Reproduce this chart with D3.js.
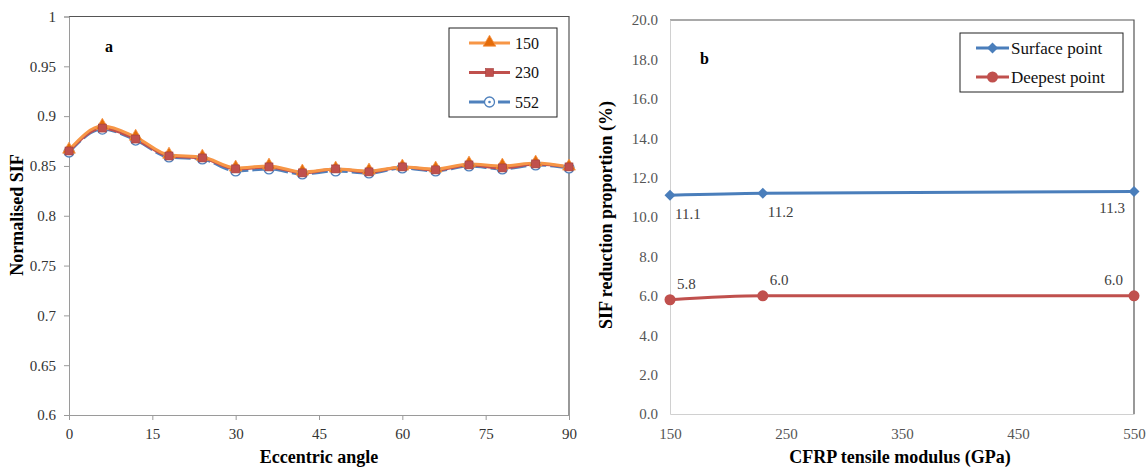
<!DOCTYPE html>
<html>
<head>
<meta charset="utf-8">
<script src="https://cdn.jsdelivr.net/npm/d3@7"></script>
<style>
  body { margin: 0; background: #fff; }
  svg { display: block; }
  svg text { font-family: "Liberation Serif", "Times New Roman", serif; }
</style>
</head>
<body>
<svg id="chart" width="1146" height="468"></svg>
<script>
// ---- panel a data ----
var angles = [0, 6, 12, 18, 24, 30, 36, 42, 48, 54, 60, 66, 72, 78, 84, 90];
var sif150 = [0.866, 0.890, 0.879, 0.861, 0.859, 0.848, 0.850, 0.844, 0.847, 0.845, 0.849, 0.847, 0.852, 0.850, 0.853, 0.849];
var sif230 = [0.865, 0.888, 0.877, 0.860, 0.858, 0.847, 0.849, 0.843, 0.847, 0.844, 0.849, 0.846, 0.851, 0.848, 0.852, 0.849];
var sif552 = [0.864, 0.887, 0.876, 0.859, 0.857, 0.845, 0.847, 0.842, 0.845, 0.843, 0.848, 0.845, 0.850, 0.847, 0.851, 0.848];
var angleTicks = [0, 15, 30, 45, 60, 75, 90];
var sifTicks = [0.6, 0.65, 0.7, 0.75, 0.8, 0.85, 0.9, 0.95, 1];
var sifTickLabels = ["0.6", "0.65", "0.7", "0.75", "0.8", "0.85", "0.9", "0.95", "1"];

// ---- panel b data ----
var modulus = [150, 230, 552];
var surfacePt = [11.1, 11.2, 11.3];
var deepestPt = [5.8, 6.0, 6.0];
var modulusTicks = [150, 250, 350, 450, 550];
var reductionTicks = [0, 2, 4, 6, 8, 10, 12, 14, 16, 18, 20];

var svg = d3.select("#chart");
var SERIF = "Liberation Serif";

// ================= panel a =================
var ax = d3.scaleLinear().domain([0, 90]).range([69, 569]);
var ay = d3.scaleLinear().domain([0.6, 1]).range([415, 16.5]);
var ga = svg.append("g");

// frame (top / right darker)
ga.append("path").attr("d", "M69,16.5H569V415").attr("fill", "none").attr("stroke", "#555").attr("stroke-width", 1.2);

var axA = ga.append("g").attr("transform", "translate(0,415)")
    .call(d3.axisBottom(ax).tickValues(angleTicks).tickSize(5).tickPadding(8));
var ayA = ga.append("g").attr("transform", "translate(69,0)")
    .call(d3.axisLeft(ay).tickValues(sifTicks).tickSize(5).tickPadding(8)
      .tickFormat(function(d, i) { return sifTickLabels[i]; }));
[axA, ayA].forEach(function(g) {
	g.select(".domain").attr("stroke", "#9a9a9a");
	g.selectAll(".tick line").attr("stroke", "#9a9a9a");
	g.selectAll("text").attr("font-family", SERIF).attr("font-size", 15).attr("fill", "#333");
});

var seriesA = [
	{ name: "552", vals: sif552, color: "#4f81bd", dash: "16,4", marker: "circle" },
	{ name: "230", vals: sif230, color: "#c0504d", dash: null, marker: "square" },
	{ name: "150", vals: sif150, color: "#f79646", dash: null, marker: "triangle" }
];

var lineA = d3.line()
    .x(function(d) { return ax(d[0]); })
    .y(function(d) { return ay(d[1]); })
    .curve(d3.curveMonotoneX);

seriesA.forEach(function(s) {
	ga.append("path")
	    .datum(angles.map(function(a, i) { return [a, s.vals[i]]; }))
	    .attr("d", lineA)
	    .attr("fill", "none")
	    .attr("stroke", s.color)
	    .attr("stroke-width", 3)
	    .attr("stroke-dasharray", s.dash);
});

function drawMarker(g, type, x, y) {
	if (type === "triangle") {
		g.append("path").attr("d", d3.symbol().type(d3.symbolTriangle).size(70)())
		    .attr("transform", "translate(" + x + "," + (y - 0.5) + ")")
		    .attr("fill", "#e46c0a").attr("stroke", "#f79646").attr("stroke-width", 0.8);
	} else if (type === "square") {
		g.append("rect").attr("x", x - 4).attr("y", y - 4).attr("width", 8).attr("height", 8)
		    .attr("fill", "#c0504d").attr("stroke", "#a33f3c").attr("stroke-width", 0.6);
	} else if (type === "circle") {
		g.append("circle").attr("cx", x).attr("cy", y).attr("r", 5)
		    .attr("fill", "#fff").attr("stroke", "#4f81bd").attr("stroke-width", 1.3);
		g.append("circle").attr("cx", x).attr("cy", y).attr("r", 1.3).attr("fill", "#4f81bd");
	} else if (type === "diamond") {
		g.append("path").attr("d", "M0,-5.5L5.5,0L0,5.5L-5.5,0Z")
		    .attr("transform", "translate(" + x + "," + y + ")").attr("fill", "#4a7ebb");
	} else if (type === "dot") {
		g.append("circle").attr("cx", x).attr("cy", y).attr("r", 5.5).attr("fill", "#c0504d");
	}
}

// markers: blue, orange, red on top
[seriesA[0], seriesA[2], seriesA[1]].forEach(function(s) {
	angles.forEach(function(a, i) { drawMarker(ga, s.marker, ax(a), ay(s.vals[i])); });
});

// legend a
ga.append("rect").attr("x", 449).attr("y", 28).attr("width", 108).attr("height", 89)
    .attr("fill", "#fff").attr("stroke", "#222").attr("stroke-width", 1);
[seriesA[2], seriesA[1], seriesA[0]].forEach(function(s, i) {
	var y = 43 + i * 29.5;
	ga.append("line").attr("x1", 469).attr("x2", 510).attr("y1", y).attr("y2", y)
	    .attr("stroke", s.color).attr("stroke-width", 3).attr("stroke-dasharray", s.dash ? "21,8" : null);
	drawMarker(ga, s.marker, 489.5, y);
	ga.append("text").attr("x", 515).attr("y", y + 5.5).attr("font-family", SERIF)
	    .attr("font-size", 16).attr("fill", "#111").text(s.name);
});

ga.append("text").attr("x", 105).attr("y", 52).attr("font-family", SERIF)
    .attr("font-weight", "bold").attr("font-size", 16).text("a");
ga.append("text").attr("x", 319).attr("y", 463).attr("text-anchor", "middle").attr("font-family", SERIF)
    .attr("font-weight", "bold").attr("font-size", 18).text("Eccentric angle");
ga.append("text").attr("transform", "translate(23,215) rotate(-90)").attr("text-anchor", "middle")
    .attr("font-family", SERIF).attr("font-weight", "bold").attr("font-size", 18).text("Normalised SIF");

// ================= panel b =================
var bx = d3.scaleLinear().domain([150, 550]).range([670, 1134]).clamp(true);
var by = d3.scaleLinear().domain([0, 20]).range([414, 20]);
var gb = svg.append("g");

gb.append("path").attr("d", "M670,20H1134V414").attr("fill", "none").attr("stroke", "#555").attr("stroke-width", 1.2);

var axB = gb.append("g").attr("transform", "translate(0,414)")
    .call(d3.axisBottom(bx).tickValues(modulusTicks).tickSize(0).tickPadding(14));
var ayB = gb.append("g").attr("transform", "translate(670,0)")
    .call(d3.axisLeft(by).tickValues(reductionTicks).tickSize(0).tickPadding(12).tickFormat(d3.format(".1f")));
[axB, ayB].forEach(function(g) {
	g.select(".domain").attr("stroke", "#d0d0d0");
	g.selectAll("text").attr("font-family", SERIF).attr("font-size", 15).attr("fill", "#555");
});

var lineB = d3.line()
    .x(function(d) { return bx(d[0]); })
    .y(function(d) { return by(d[1]); })
    .curve(d3.curveMonotoneX);

var seriesB = [
	{ name: "Surface point", vals: surfacePt, color: "#4a7ebb", marker: "diamond" },
	{ name: "Deepest point", vals: deepestPt, color: "#c0504d", marker: "dot" }
];

seriesB.forEach(function(s) {
	gb.append("path")
	    .datum(modulus.map(function(m, i) { return [m, s.vals[i]]; }))
	    .attr("d", lineB)
	    .attr("fill", "none").attr("stroke", s.color).attr("stroke-width", 3);
	modulus.forEach(function(m, i) { drawMarker(gb, s.marker, bx(m), by(s.vals[i])); });
});

// data labels
modulus.forEach(function(m, i) {
	var last = i === modulus.length - 1;
	gb.append("text")
	    .attr("x", last ? bx(m) - 9 : bx(m) + 5)
	    .attr("y", last ? by(surfacePt[i]) + 22 : by(surfacePt[i]) + 24)
	    .attr("text-anchor", last ? "end" : "start")
	    .attr("font-family", SERIF).attr("font-size", 15).attr("fill", "#404040")
	    .text(d3.format(".1f")(surfacePt[i]));
	gb.append("text")
	    .attr("x", last ? bx(m) - 11 : bx(m) + 7)
	    .attr("y", by(deepestPt[i]) - 11)
	    .attr("text-anchor", last ? "end" : "start")
	    .attr("font-family", SERIF).attr("font-size", 15).attr("fill", "#404040")
	    .text(d3.format(".1f")(deepestPt[i]));
});

// legend b
gb.append("rect").attr("x", 960).attr("y", 33).attr("width", 163).attr("height", 59)
    .attr("fill", "#fff").attr("stroke", "#222").attr("stroke-width", 1);
seriesB.forEach(function(s, i) {
	var y = 48 + i * 29;
	gb.append("line").attr("x1", 976).attr("x2", 1009).attr("y1", y).attr("y2", y)
	    .attr("stroke", s.color).attr("stroke-width", 3);
	drawMarker(gb, s.marker, 992.5, y);
	gb.append("text").attr("x", 1011).attr("y", y + 6).attr("font-family", SERIF)
	    .attr("font-size", 17).attr("fill", "#111").text(s.name);
});

gb.append("text").attr("x", 700).attr("y", 64).attr("font-family", SERIF)
    .attr("font-weight", "bold").attr("font-size", 16).text("b");
gb.append("text").attr("x", 900).attr("y", 463).attr("text-anchor", "middle").attr("font-family", SERIF)
    .attr("font-weight", "bold").attr("font-size", 18).text("CFRP tensile modulus (GPa)");
gb.append("text").attr("transform", "translate(612,215) rotate(-90)").attr("text-anchor", "middle")
    .attr("font-family", SERIF).attr("font-weight", "bold").attr("font-size", 18).text("SIF reduction proportion (%)");
</script>
</body>
</html>
